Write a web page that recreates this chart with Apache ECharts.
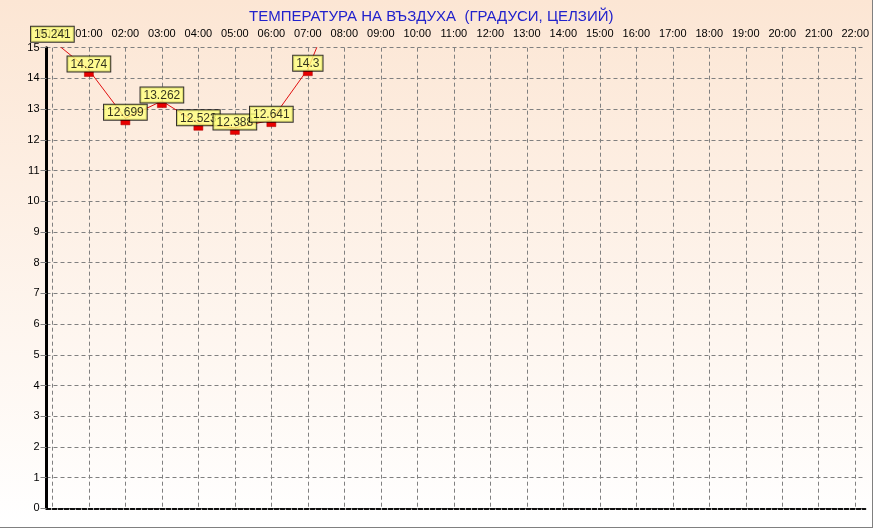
<!DOCTYPE html>
<html><head><meta charset="utf-8">
<script src="https://cdn.jsdelivr.net/npm/echarts@6/dist/echarts.min.js"></script>
<style>
html,body{margin:0;padding:0;background:#fff;}
#c{width:873px;height:528px;box-sizing:border-box;border-right:1px solid #808080;border-bottom:1px solid #808080;}
</style>
</head><body><div id="c"></div>
<script>
const titleText = 'ТЕМПЕРАТУРА НА ВЪЗДУХА  (ГРАДУСИ, ЦЕЛЗИЙ)';
const hours = ['00:00','01:00','02:00','03:00','04:00','05:00','06:00','07:00','08:00','09:00','10:00','11:00',
  '12:00','13:00','14:00','15:00','16:00','17:00','18:00','19:00','20:00','21:00','22:00'];
const temperature = [15.241, 14.274, 12.699, 13.262, 12.523, 12.388, 12.641, 14.3, 17.2];
const yMin = 0, yMax = 15, yStep = 1;

const FONT = 'Liberation Sans';
const chart = echarts.init(document.getElementById('c'), null, {renderer: 'canvas'});
const plotTop = 47.7, plotH = 460.6;
const markSize = [9, 5], markOffset = [0, 4];

chart.setOption({
  animation: false,
  backgroundColor: new echarts.graphic.LinearGradient(0, 0, 0, 1, [
    {offset: 0, color: '#FCE6D4'}, {offset: 1, color: '#FFFFFF'}
  ]),
  title: {
    text: titleText, left: 244, top: 4,
    textStyle: {fontFamily: FONT, fontSize: 15, fontWeight: 'normal', color: '#2222CC'}
  },
  grid: [
    {left: 46.5, top: plotTop, width: 819, height: plotH, containLabel: false},
    {left: 52.4, top: plotTop, width: 808, height: plotH, containLabel: false}
  ],
  xAxis: [
    {gridIndex: 0, type: 'value', min: 0, max: 1, position: 'bottom',
     axisLine: {show: true, lineStyle: {color: '#000', width: 1.5, type: [4, 2]}},
     axisTick: {show: false}, axisLabel: {show: false}, splitLine: {show: false}},
    {gridIndex: 0, type: 'value', min: 0, max: 1, position: 'top',
     axisLine: {show: true, lineStyle: {color: '#000', width: 1.5, type: [4, 2]}},
     axisTick: {show: false}, axisLabel: {show: false}, splitLine: {show: false}},
    {gridIndex: 1, type: 'category', data: hours, position: 'top', boundaryGap: false,
     axisLine: {show: false}, axisTick: {show: false},
     axisLabel: {interval: 0, margin: 8, fontFamily: FONT, fontSize: 11, color: '#000'},
     splitLine: {show: true, lineStyle: {color: '#808080', width: 1, type: [4, 3]}}}
  ],
  yAxis: [
    {gridIndex: 0, type: 'value', min: yMin, max: yMax, interval: yStep, position: 'left',
     axisLine: {show: true, lineStyle: {color: '#000', width: 3}},
     axisTick: {show: true, length: 6, lineStyle: {color: '#808080'}},
     axisLabel: {margin: 7, fontFamily: FONT, fontSize: 11, color: '#000'},
     splitLine: {show: true, lineStyle: {color: '#808080', width: 1, type: [4, 3]}}},
    {gridIndex: 0, type: 'value', min: yMin, max: yMax, interval: yStep, position: 'right',
     axisLine: {show: true, lineStyle: {color: '#000', width: 1.5}},
     axisTick: {show: false}, axisLabel: {show: false}, splitLine: {show: false}},
    {gridIndex: 1, type: 'value', min: yMin, max: yMax, interval: yStep, show: false,
     splitLine: {show: false}}
  ],
  series: [
    {
      type: 'line', xAxisIndex: 2, yAxisIndex: 2, data: temperature, clip: true,
      silent: true, showAllSymbol: true, symbol: 'rect', symbolSize: markSize, symbolOffset: markOffset,
      lineStyle: {color: '#E01010', width: 1},
      itemStyle: {color: '#E80000', borderColor: '#B00000', borderWidth: 0.5},
      emphasis: {disabled: true}, z: 3
    },
    {
      type: 'scatter', xAxisIndex: 2, yAxisIndex: 2, data: temperature, clip: false,
      silent: true, symbol: 'rect', symbolSize: markSize, symbolOffset: markOffset,
      itemStyle: {color: 'rgba(0,0,0,0)'},
      emphasis: {disabled: true}, z: 5,
      label: {
        show: true, position: 'top', distance: 0,
        formatter: p => String(p.value),
        fontFamily: FONT, fontSize: 12, lineHeight: 12, color: '#000',
        backgroundColor: '#FFFF80', borderColor: '#000', borderWidth: 1,
        padding: [2, 3, 1, 3]
      }
    }
  ]
});
</script>
</body></html>
